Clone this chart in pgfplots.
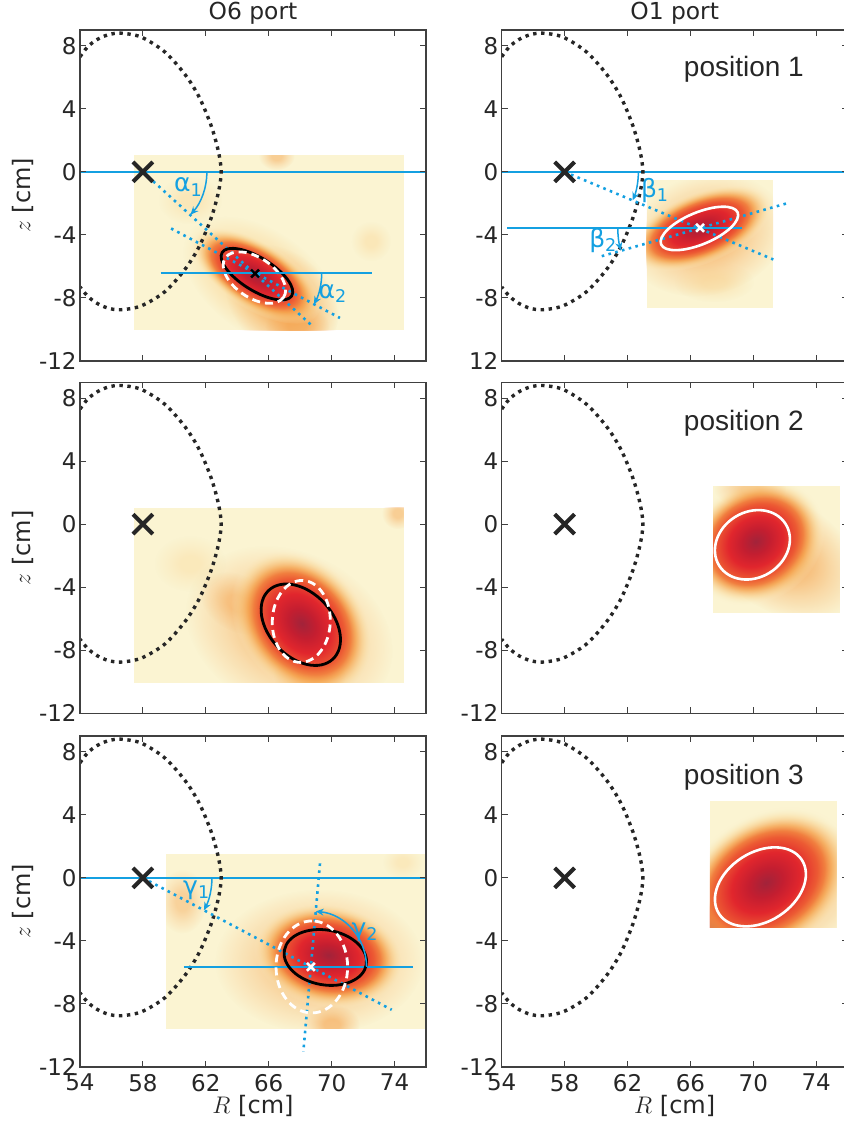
\documentclass[border=0pt]{standalone}
\usepackage{fontspec}
\setmainfont{DejaVu Sans}
\newfontfamily\arial{Liberation Sans}
\usepackage{pgfplots}
\usepackage{pgfplotstable}
\pgfplotsset{compat=1.18}
\usetikzlibrary{fadings,arrows.meta}

\definecolor{c0}{HTML}{A2233A}
\definecolor{c1}{HTML}{C41E30}
\definecolor{c2}{HTML}{E1262D}
\definecolor{c3}{HTML}{EC5A33}
\definecolor{c4}{HTML}{F5A04A}
\definecolor{c5}{HTML}{F9D089}
\definecolor{bg}{HTML}{FBF4D2}
\definecolor{blu}{RGB}{20,160,225}

\pgfdeclareradialshading{coreshade}{\pgfpointorigin}{color(0bp)=(c0); color(5bp)=(c1); color(10bp)=(c2); color(15bp)=(c3); color(19bp)=(c4); color(22bp)=(c5); color(25bp)=(bg); color(50bp)=(bg)}
\pgfdeclareradialshading{corefadeshade}{\pgfpointorigin}{color(0bp)=(white); color(17bp)=(white); color(25bp)=(black); color(50bp)=(black)}
\pgfdeclarefading{coref}{\pgfuseshading{corefadeshade}}
\pgfdeclareradialshading{halofadeshade}{\pgfpointorigin}{color(0bp)=(white); color(7bp)=(white); color(16bp)=(white!45!black); color(25bp)=(black); color(50bp)=(black)}
\pgfdeclarefading{halof}{\pgfuseshading{halofadeshade}}

\newcommand\core[5]{\begin{scope}[transform canvas={rotate around={#5:(axis cs:#1,#2)}}]\shade[shading=coreshade, path fading=coref] (axis cs:#1,#2) ellipse [x radius=#3, y radius=#4];\end{scope}}
\newcommand\halo[7]{\begin{scope}[transform canvas={rotate around={#5:(axis cs:#1,#2)}}]\fill[#6, fill opacity=#7, path fading=halof] (axis cs:#1,#2) ellipse [x radius=#3, y radius=#4];\end{scope}}

\pgfplotstableread{
R z
54 7.3
54.5 7.95
55.1 8.4
55.8 8.7
56.6 8.8
57.9 8.55
59.4 7.6
60.7 6.15
61.6 4.7
62.35 2.9
62.8 1.3
62.98 0
62.8 -1.3
62.35 -2.9
61.6 -4.7
60.7 -6.15
59.4 -7.6
57.9 -8.5
56.6 -8.75
55.8 -8.65
55.1 -8.35
54.5 -7.9
54 -7.3
}\Dcurve

\tikzset{
  arr/.style={blu, line width=0.75pt, -{Stealth[length=4pt,width=3.5pt]}},
  glab/.style={blu, font=\fontsize{12.5}{14}\selectfont},
  poslab/.style={black!85, font=\arial\fontsize{14}{16}\selectfont},
  coltitle/.style={black!85, font=\fontsize{11.7}{13}\selectfont},
}
\pgfplotsset{
  panel/.style={scale only axis, width=173pt, height=165.5pt,
    xmin=54, xmax=76, ymin=-12, ymax=9,
    xtick={54,58,62,66,70,74}, ytick={-12,-8,-4,0,4,8},
    axis on top, tick align=inside, major tick length=3pt,
    tick style={black!75, line width=0.5pt},
    axis line style={black!75, line width=0.6pt},
    yticklabels={-12,-8,-4,0,4,8}, xticklabels={},
    ticklabel style={font=\fontsize{11.5}{13}\selectfont, text=black!85},
    yticklabel style={inner sep=1.5pt},
    ylabel={$z$ [cm]},
    ylabel style={at={(axis description cs:-0.165,0.5)}, anchor=center, font=\fontsize{12}{14}\selectfont, text=black!85},
  },
  bottomrow/.style={xticklabels={54,58,62,66,70,74}, xlabel={$R$ [cm]},
    xlabel style={at={(axis description cs:0.5,-0.118)}, anchor=center, yshift=0pt, font=\fontsize{12}{14}\selectfont, text=black!85}},
  dcurve/.style={black!85, line width=1.7pt, dash pattern=on 1.7pt off 2.3pt, smooth},
  bluedot/.style={blu, line width=1.3pt, dash pattern=on 1.3pt off 2.2pt},
  blueline/.style={blu, line width=0.75pt},
  bigx/.style={only marks, mark=x, mark size=7pt, black!85, line width=2pt},
}

\begin{document}
\begin{tikzpicture}
% ---------------- Row 1, O6 ----------------
\begin{axis}[panel, at={(40pt,-15pt)}, anchor=north west]
\addplot[draw=none, fill=bg] coordinates {(57.45,-10.05) (74.6,-10.05) (74.6,1.05) (57.45,1.05)} -- cycle;
\begin{scope}
\clip (axis cs:57.45,-10.05) rectangle (axis cs:74.6,1.05);
\halo{65.5}{-7}{44pt}{26pt}{-35}{c5}{0.9}
\halo{66.8}{-8.2}{32pt}{24pt}{-45}{c4}{0.7}
\halo{67.8}{-9.8}{16pt}{11pt}{0}{c4}{0.6}
\halo{66.5}{1.0}{9pt}{7pt}{0}{c4}{0.45}
\halo{61}{-1.8}{16pt}{12pt}{0}{c5}{0.35}
\halo{72.5}{-4.4}{10pt}{10pt}{0}{c5}{0.35}
\core{65.15}{-6.55}{37pt}{17pt}{-32}
\end{scope}
\addplot[blueline] coordinates {(54,0) (76,0)};
\addplot[dcurve] table {\Dcurve};
\addplot[bluedot] coordinates {(58,0) (68.85,-9.85)};
\addplot[bluedot] coordinates {(59.79,-3.59) (70.53,-9.27)};
\draw[black, line width=1.4pt, rotate around={-32:(axis cs:65.25,-6.49)}] (axis cs:65.25,-6.49) ellipse [x radius=20.5pt, y radius=8.2pt];
\draw[white, line width=1.4pt, dash pattern=on 4pt off 2.5pt, rotate around={-34:(axis cs:65.09,-6.71)}] (axis cs:65.09,-6.71) ellipse [x radius=17.6pt, y radius=10pt];
\addplot[blu, line width=0.85pt] coordinates {(59.13,-6.42) (72.55,-6.42)};
\addplot[only marks, mark=x, mark size=2.8pt, black, line width=1.2pt] coordinates {(65.13,-6.45)};
\addplot[bigx] coordinates {(58,0)};
\draw[arr] (axis cs:62.07,0) arc[start angle=0, end angle=-42, radius=32pt];
\draw[arr] (axis cs:69.37,-6.42) arc[start angle=0, end angle=-28, radius=33.35pt];
\node[glab] at (axis cs:60.89,-0.95) {α\textsubscript{1}};
\node[glab] at (axis cs:70.09,-7.72) {α\textsubscript{2}};
\end{axis}

% ---------------- Row 1, O1 ----------------
\begin{axis}[panel, at={(250.85pt,-15pt)}, anchor=north west, yticklabels={12,-8,-4,0,4,8}, ylabel={}]
\addplot[draw=none, fill=bg] coordinates {(63.22,-8.61) (71.27,-8.61) (71.27,-0.52) (63.22,-0.52)} -- cycle;
\begin{scope}
\clip (axis cs:63.22,-8.61) rectangle (axis cs:71.27,-0.52);
\halo{67}{-4}{40pt}{30pt}{15}{c4}{0.65}
\halo{67.5}{-7}{20pt}{10pt}{0}{c5}{0.4}
\core{66.6}{-3.55}{38pt}{18pt}{22}
\end{scope}
\addplot[blueline] coordinates {(54,0) (76,0)};
\addplot[dcurve] table {\Dcurve};
\addplot[bluedot] coordinates {(58,0) (71.27,-5.56)};
\addplot[bluedot] coordinates {(60.36,-5.35) (72.12,-2.0)};
\addplot[blueline] coordinates {(54.36,-3.55) (69.3,-3.55)};
\draw[white, line width=1.3pt, rotate around={22.6:(axis cs:66.57,-3.59)}] (axis cs:66.57,-3.59) ellipse [x radius=20.75pt, y radius=8pt];
\addplot[only marks, mark=x, mark size=2.8pt, white, line width=1.3pt] coordinates {(66.61,-3.55)};
\addplot[bigx] coordinates {(58,0)};
\draw[arr] (axis cs:62.69,0) arc[start angle=0, end angle=-22.7, radius=36.85pt];
\draw[arr] (axis cs:61.38,-3.55) arc[start angle=180, end angle=195.9, radius=41.15pt];
\node[glab] at (axis cs:63.75,-1.16) {β\textsubscript{1}};
\node[glab] at (axis cs:60.46,-4.33) {β\textsubscript{2}};
\node[poslab] at (axis cs:69.4,6.5) {position 1};
\end{axis}

% ---------------- Row 2, O6 ----------------
\begin{axis}[panel, at={(40pt,-191.15pt)}, anchor=north west]
\addplot[draw=none, fill=bg] coordinates {(57.45,-10.07) (74.6,-10.07) (74.6,1.04) (57.45,1.04)} -- cycle;
\begin{scope}
\clip (axis cs:57.45,-10.07) rectangle (axis cs:74.6,1.04);
\halo{67.3}{-6.8}{54pt}{40pt}{-25}{c4}{0.6}
\halo{68.6}{-9.6}{18pt}{12pt}{0}{c4}{0.6}
\halo{74.2}{0.7}{8pt}{8pt}{0}{c4}{0.45}
\halo{61}{-2.5}{18pt}{14pt}{0}{c5}{0.3}
\halo{64}{-5}{20pt}{14pt}{-30}{c4}{0.45}
\core{68.1}{-6.3}{41pt}{31pt}{-50}
\end{scope}
\addplot[dcurve] table {\Dcurve};
\draw[black, line width=1.4pt, rotate around={-47:(axis cs:68.04,-6.38)}] (axis cs:68.04,-6.38) ellipse [x radius=23.5pt, y radius=16pt];
\draw[white, line width=1.4pt, dash pattern=on 4pt off 2.5pt, rotate around={88:(axis cs:68.07,-6.17)}] (axis cs:68.07,-6.17) ellipse [x radius=20.5pt, y radius=14.5pt];
\addplot[bigx] coordinates {(58,0)};
\end{axis}

% ---------------- Row 2, O1 ----------------
\begin{axis}[panel, at={(250.85pt,-191.15pt)}, anchor=north west, ylabel={}]
\addplot[draw=none, fill=bg] coordinates {(67.45,-5.63) (75.5,-5.63) (75.5,2.42) (67.45,2.42)} -- cycle;
\begin{scope}
\clip (axis cs:67.45,-5.63) rectangle (axis cs:75.5,2.42);
\halo{71.8}{-2}{42pt}{28pt}{-30}{c4}{0.7}
\halo{69.8}{2.2}{18pt}{9pt}{0}{c4}{0.5}
\core{70.15}{-1.1}{36pt}{30pt}{32}
\end{scope}
\addplot[dcurve] table {\Dcurve};
\draw[white, line width=1.3pt, rotate around={32:(axis cs:69.94,-1.31)}] (axis cs:69.94,-1.31) ellipse [x radius=19.6pt, y radius=16.4pt];
\addplot[bigx] coordinates {(58,0)};
\node[poslab] at (axis cs:69.4,6.4) {position 2};
\end{axis}

% ---------------- Row 3, O6 ----------------
\begin{axis}[panel, bottomrow, at={(40pt,-368pt)}, anchor=north west]
\addplot[draw=none, fill=bg] coordinates {(59.47,-9.56) (76,-9.56) (76,1.49) (59.47,1.49)} -- cycle;
\begin{scope}
\clip (axis cs:59.47,-9.56) rectangle (axis cs:76,1.49);
\halo{69.2}{-5.3}{52pt}{36pt}{0}{c4}{0.6}
\halo{70}{-9.3}{14pt}{10pt}{0}{c4}{0.55}
\halo{60.5}{-1.5}{12pt}{16pt}{0}{c4}{0.4}
\halo{74.5}{1}{10pt}{8pt}{0}{c5}{0.3}
\core{69.8}{-4.9}{38pt}{26pt}{-10}
\end{scope}
\addplot[blueline] coordinates {(54,0) (76,0)};
\addplot[dcurve] table {\Dcurve};
\addplot[bluedot] coordinates {(58,0) (73.82,-8.37)};
\addplot[bluedot] coordinates {(69.26,0.92) (68.2,-11.04)};
\addplot[blueline] coordinates {(60.61,-5.65) (75.15,-5.65)};
\draw[black, line width=1.4pt, rotate around={-10:(axis cs:69.6,-5.05)}] (axis cs:69.6,-5.05) ellipse [x radius=20.8pt, y radius=13.7pt];
\draw[white, line width=1.4pt, dash pattern=on 4pt off 2.5pt, rotate around={90:(axis cs:68.74,-5.65)}] (axis cs:68.74,-5.65) ellipse [x radius=23pt, y radius=17.9pt];
\addplot[only marks, mark=x, mark size=2.8pt, white, line width=1.3pt] coordinates {(68.68,-5.65)};
\addplot[bigx] coordinates {(58,0)};
\draw[arr] (axis cs:62.39,0) arc[start angle=0, end angle=-27.9, radius=34.55pt];
\draw[arr] (axis cs:72.22,-5.65) arc[start angle=0, end angle=85, radius=27.85pt];
\node[glab] at (axis cs:61.42,-0.78) {γ\textsubscript{1}};
\node[glab] at (axis cs:72.12,-3.42) {γ\textsubscript{2}};
\end{axis}

% ---------------- Row 3, O1 ----------------
\begin{axis}[panel, bottomrow, at={(250.85pt,-368pt)}, anchor=north west, ylabel={}]
\addplot[draw=none, fill=bg] coordinates {(67.24,-3.15) (75.3,-3.15) (75.3,4.9) (67.24,4.9)} -- cycle;
\begin{scope}
\clip (axis cs:67.24,-3.15) rectangle (axis cs:75.3,4.9);
\halo{71.5}{-0.8}{47pt}{34pt}{20}{c4}{0.7}
\core{67.6}{-3}{18pt}{14pt}{0}
\core{70.8}{-0.3}{46pt}{34pt}{33}
\end{scope}
\addplot[dcurve] table {\Dcurve};
\draw[white, line width=1.3pt, rotate around={33:(axis cs:70.45,-0.57)}] (axis cs:70.45,-0.57) ellipse [x radius=24.7pt, y radius=17.25pt];
\addplot[bigx] coordinates {(58,0)};
\node[poslab] at (axis cs:69.4,6.4) {position 3};
\end{axis}

\node[coltitle] at (126.5pt,-6.5pt) {O6 port};
\node[coltitle] at (337.35pt,-6.5pt) {O1 port};

\pgfresetboundingbox
\useasboundingbox (0,0) rectangle (421.5pt,-562pt);
\end{tikzpicture}
\end{document}
